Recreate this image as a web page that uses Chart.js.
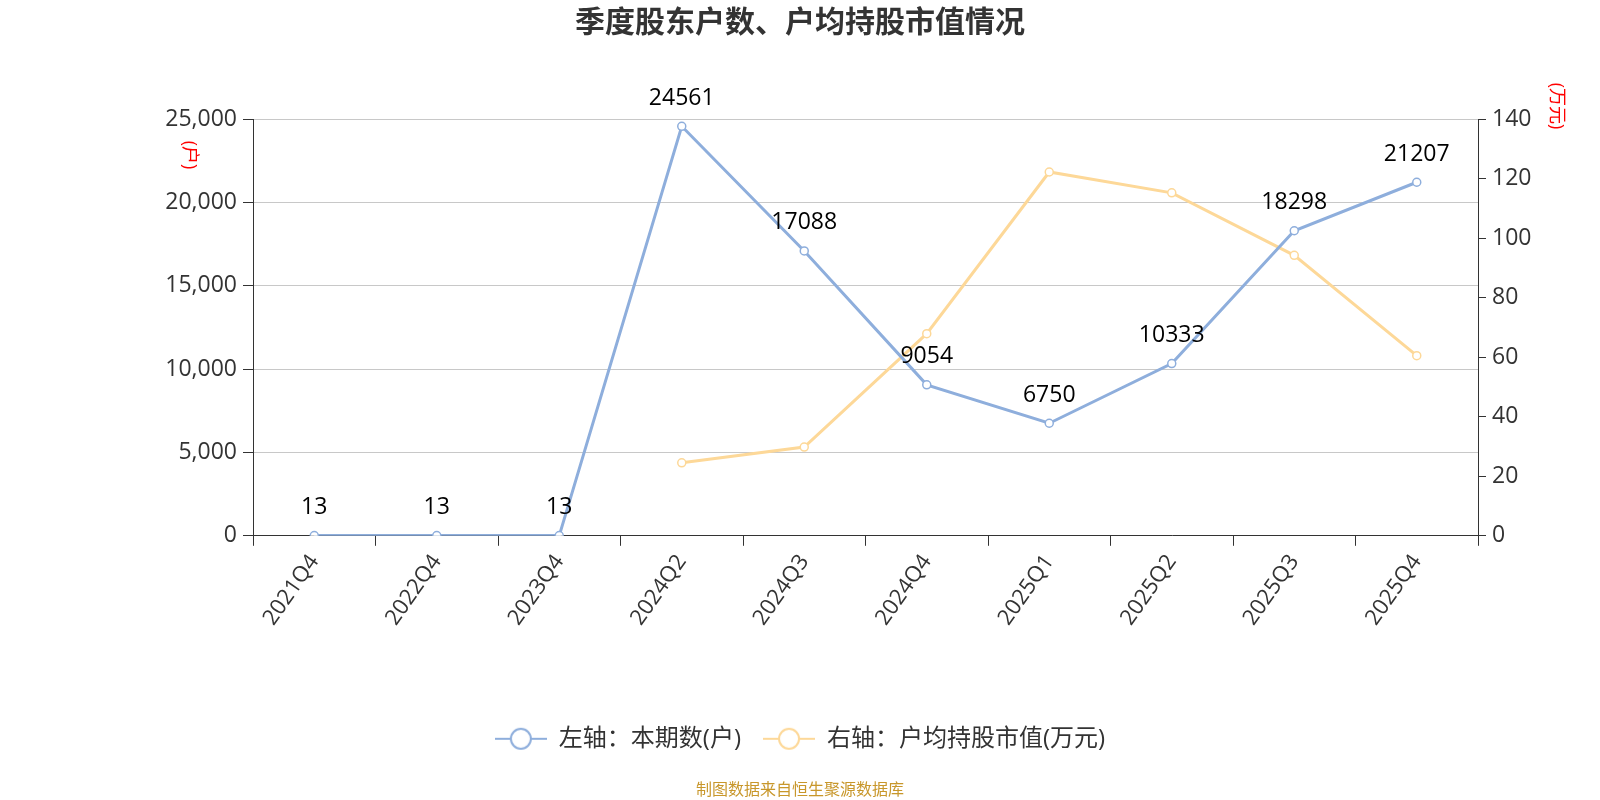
<!DOCTYPE html>
<html lang="zh">
<head>
<meta charset="UTF-8" />
<title>季度股东户数、户均持股市值情况</title>
<script src="https://cdn.jsdelivr.net/npm/chart.js@4/dist/chart.umd.min.js"></script>
<style>
  html, body { margin: 0; padding: 0; background: #fff; }
  #wrap { width: 1600px; height: 800px; position: relative; }
</style>
</head>
<body>
<div id="wrap"><canvas id="chart"></canvas></div>
<script>
// quarters on the x axis
const quarters = ["2021Q4", "2022Q4", "2023Q4", "2024Q2", "2024Q3", "2024Q4", "2025Q1", "2025Q2", "2025Q3", "2025Q4"];
// left axis: number of shareholders
const holders = [13, 13, 13, 24561, 17088, 9054, 6750, 10333, 18298, 21207];
// right axis: avg holding value per account (万元)
const avgValue = [null, null, null, 24.5, 29.8, 67.9, 122.2, 115.2, 94.2, 60.5];

const BLUE = "#8eaedc";
const YELLOW = "#fdd898";
const FONT = '"Open Sans", "Noto Sans CJK SC", sans-serif';

Chart.defaults.font.family = FONT;
Chart.defaults.color = "#333";

// line + hollow circle icon for the legend
function legendIcon(color) {
  const c = document.createElement("canvas");
  c.width = 52; c.height = 26;
  const g = c.getContext("2d");
  g.strokeStyle = color;
  g.lineWidth = 2;
  g.beginPath(); g.moveTo(0, 13); g.lineTo(52, 13); g.stroke();
  g.beginPath(); g.arc(26, 13, 10, 0, Math.PI * 2);
  g.fillStyle = "#fff"; g.fill(); g.stroke();
  return c;
}
const icons = [legendIcon(BLUE), legendIcon(YELLOW)];

// numbers above the blue points
const valueLabels = {
  id: "valueLabels",
  afterDatasetsDraw(chart) {
    const ctx = chart.ctx;
    const meta = chart.getDatasetMeta(0);
    ctx.save();
    ctx.font = "23px " + FONT;
    ctx.fillStyle = "#000";
    ctx.textAlign = "center";
    ctx.textBaseline = "middle";
    meta.data.forEach((pt, i) => {
      ctx.fillText(String(holders[i]), pt.x, pt.y - 28);
    });
    ctx.restore();
  }
};

// vertical red unit names next to the y axes
const axisNames = {
  id: "axisNames",
  afterDraw(chart) {
    const ctx = chart.ctx;
    const area = chart.chartArea;
    ctx.save();
    ctx.font = "18px " + FONT;
    ctx.fillStyle = "#ff0000";
    ctx.textAlign = "center";
    ctx.textBaseline = "middle";
    const draw = (text, x, y) => {
      ctx.save();
      ctx.translate(x, y);
      ctx.rotate(Math.PI / 2);
      ctx.fillText(text, 0, 0);
      ctx.restore();
    };
    draw("(户)", area.left - 64, area.top + 36);
    draw("(万元)", area.right + 78, area.top - 13);
    ctx.restore();
  }
};

new Chart(document.getElementById("chart"), {
  type: "line",
  data: {
    labels: quarters,
    datasets: [
      {
        label: "左轴：本期数(户)",
        data: holders,
        yAxisID: "y",
        borderColor: BLUE,
        backgroundColor: "#fff",
        borderWidth: 3,
        pointRadius: 4,
        pointBorderWidth: 1.5,
        pointBorderColor: BLUE,
        pointBackgroundColor: "#fff",
        tension: 0
      },
      {
        label: "右轴：户均持股市值(万元)",
        data: avgValue,
        yAxisID: "y1",
        borderColor: YELLOW,
        backgroundColor: "#fff",
        borderWidth: 3,
        pointRadius: 4,
        pointBorderWidth: 1.5,
        pointBorderColor: YELLOW,
        pointBackgroundColor: "#fff",
        tension: 0
      }
    ]
  },
  options: {
    responsive: true,
    maintainAspectRatio: false,
    animation: false,
    layout: { padding: { left: 0, right: 0, top: 0, bottom: 0 } },
    plugins: {
      title: {
        display: true,
        text: "季度股东户数、户均持股市值情况",
        color: "#333",
        font: { size: 30, weight: "bold", family: FONT },
        padding: { top: 5, bottom: 78 }
      },
      subtitle: {
        display: true,
        position: "bottom",
        text: "制图数据来自恒生聚源数据库",
        color: "#c8972b",
        font: { size: 16, family: FONT },
        padding: { top: 20, bottom: 0 }
      },
      legend: {
        position: "bottom",
        labels: {
          usePointStyle: true,
          pointStyleWidth: 52,
          padding: 22,
          color: "#333",
          font: { size: 24, family: FONT },
          generateLabels(chart) {
            const items = Chart.defaults.plugins.legend.labels.generateLabels(chart);
            items.forEach((it, i) => { it.pointStyle = icons[i]; });
            return items;
          }
        }
      },
      tooltip: { enabled: false }
    },
    scales: {
      x: {
        offset: true,
        afterFit(scale) { scale.height = 169; },
        border: { color: "#333", width: 1 },
        grid: { offset: true, drawOnChartArea: false, tickLength: 10, tickColor: "#333" },
        ticks: {
          color: "#333",
          font: { size: 22 },
          minRotation: 55,
          maxRotation: 55,
          autoSkip: false,
          padding: 4
        }
      },
      y: {
        position: "left",
        min: 0,
        max: 25000,
        afterFit(scale) { scale.width = 253; },
        border: { color: "#333", width: 1 },
        grid: { color: "#c8c8c8", lineWidth: 1, tickLength: 10, tickColor: "#333" },
        ticks: {
          stepSize: 5000,
          color: "#333",
          font: { size: 23 },
          padding: 6,
          callback: v => v.toLocaleString("en-US")
        }
      },
      y1: {
        position: "right",
        min: 0,
        max: 140,
        afterFit(scale) { scale.width = 122; },
        border: { color: "#333", width: 1 },
        grid: { drawOnChartArea: false, tickLength: 8, tickColor: "#333" },
        ticks: {
          stepSize: 20,
          color: "#333",
          font: { size: 23 },
          padding: 6
        }
      }
    }
  },
  plugins: [valueLabels, axisNames]
});
</script>
</body>
</html>
